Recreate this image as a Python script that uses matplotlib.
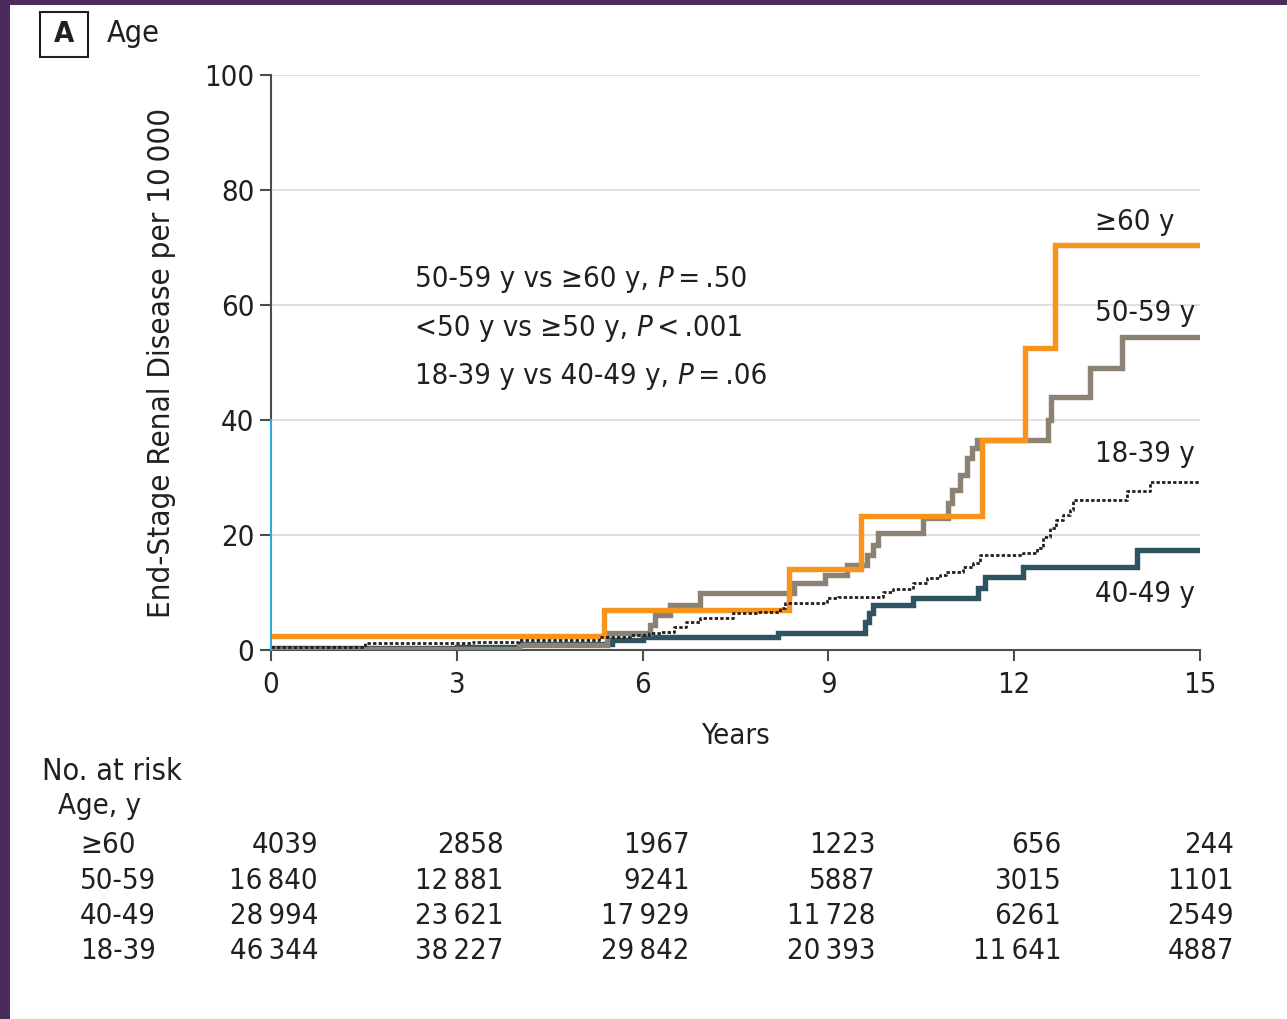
import matplotlib
matplotlib.use("Agg")
import matplotlib.pyplot as plt
import matplotlib.transforms as mtransforms
from matplotlib.patches import Rectangle

plt.rcParams['font.family'] = ['DejaVu Sans']
plt.rcParams['font.stretch'] = 'condensed'

# ---- data ----
t_60 = [0, 5.38, 8.36, 9.53, 11.48, 12.17, 12.66, 15]
v_60 = [2.4, 7.0, 14.1, 23.3, 36.5, 52.5, 70.4, 70.4]

t_50 = [0, 4.0, 5.42, 6.12, 6.2, 6.44, 6.93, 8.45, 8.95, 9.3, 9.62, 9.72, 9.8,
        10.53, 10.93, 11.0, 11.12, 11.23, 11.32, 11.4, 12.55, 12.6, 13.22, 13.74, 15]
v_50 = [0.2, 0.8, 3.0, 4.3, 6.1, 7.8, 9.9, 11.6, 13.0, 14.8, 16.5, 18.3, 20.3,
        23.0, 25.6, 27.8, 30.4, 33.4, 35.1, 36.5, 40.0, 44.0, 49.0, 54.4, 54.4]

t_40 = [0, 3.0, 4.0, 5.5, 6.0, 8.19, 9.59, 9.66, 9.72, 10.37, 11.42, 11.53, 12.14, 13.98, 15]
v_40 = [0.3, 0.6, 1.0, 1.8, 2.3, 3.0, 4.9, 6.4, 7.8, 9.0, 10.8, 12.7, 14.4, 17.4, 17.4]

t_18 = [0, 1.52, 3.26, 4.0, 5.3, 5.8, 6.1, 6.3, 6.5, 6.7, 6.93, 7.46, 7.87, 8.22, 8.3,
        8.98, 9.15, 9.88, 10.05, 10.37, 10.6, 10.8, 10.9, 11.17, 11.33, 11.45, 12.14,
        12.37, 12.47, 12.58, 12.68, 12.79, 12.9, 12.95, 13.82, 14.19, 15]
v_18 = [0.5, 1.2, 1.4, 1.7, 2.3, 2.6, 2.9, 3.1, 4.0, 4.8, 5.6, 6.4, 6.6, 7.3, 8.2,
        9.0, 9.2, 10.1, 10.6, 11.6, 12.5, 13.0, 13.6, 14.4, 15.1, 16.5, 16.9,
        17.7, 19.7, 21.2, 22.6, 23.5, 24.3, 26.1, 27.7, 29.2, 29.2]

x_ticks = [0, 3, 6, 9, 12, 15]
y_ticks = [0, 20, 40, 60, 80, 100]

risk_groups = ['≥60', '50-59', '40-49', '18-39']
risk_60 = [4039, 2858, 1967, 1223, 656, 244]
risk_50 = [16840, 12881, 9241, 5887, 3015, 1101]
risk_40 = [28994, 23621, 17929, 11728, 6261, 2549]
risk_18 = [46344, 38227, 29842, 20393, 11641, 4887]

series_labels = ['≥60 y', '50-59 y', '18-39 y', '40-49 y']
label_y = [74.4, 58.6, 34.1, 9.7]

pval_pre = ['50-59 y vs ≥60 y, ', '<50 y vs ≥50 y, ', '18-39 y vs 40-49 y, ']
pval_post = ['\u2009=\u2009.50', '\u2009<\u2009.001', '\u2009=\u2009.06']
pval_y = [64.5, 56.0, 47.7]

# ---- style ----
c_orange = '#F7941D'
c_gray = '#8C8273'
c_teal = '#2E5462'
c_dot = '#231F20'
c_text = '#231F20'
c_spine = '#4D4D4D'
c_blue = '#29ABE2'
FS = 21
col_offsets = [0.76, 0.76, 0.76, 0.76, 0.76, 0.55]

W, H = 1287, 1019
fig = plt.figure(figsize=(W / 100, H / 100), dpi=100)
fig.patch.set_facecolor('white')

fig.patches.append(Rectangle((0, 0), 10 / W, 1, transform=fig.transFigure,
                             facecolor='#4B2B5C', edgecolor='none', zorder=0))
fig.patches.append(Rectangle((0, 1 - 5 / H), 1, 5 / H, transform=fig.transFigure,
                             facecolor='#4B2B5C', edgecolor='none', zorder=0))

ax = fig.add_axes([271 / W, 1 - 650 / H, (1200 - 271) / W, (650 - 75) / H])
ax.set_xlim(0, 15)
ax.set_ylim(0, 100)

for yv in y_ticks[1:]:
    ax.axhline(yv, color='#DADADA', lw=1.2, zorder=0)

ax.step(t_40, v_40, where='post', color=c_teal, lw=3.9, zorder=2, solid_joinstyle='miter')
ax.step(t_50, v_50, where='post', color=c_gray, lw=3.9, zorder=3, solid_joinstyle='miter')
ax.step(t_60, v_60, where='post', color=c_orange, lw=3.9, zorder=4, solid_joinstyle='miter')
ax.step(t_18, v_18, where='post', color=c_dot, lw=2.0, zorder=5, linestyle=(0, (1.2, 0.8)))

for s in ['top', 'right']:
    ax.spines[s].set_visible(False)
ax.spines['left'].set_color(c_spine)
ax.spines['bottom'].set_color(c_spine)
ax.spines['left'].set_linewidth(1.5)
ax.spines['bottom'].set_linewidth(1.5)
ax.spines['left'].set_bounds(40, 100)
ax.plot([0, 0], [0, 40], color=c_blue, lw=1.5, clip_on=False, zorder=6)

ax.set_xticks(x_ticks)
ax.set_xticklabels([str(x) for x in x_ticks])
ax.set_yticks(y_ticks)
ax.set_yticklabels([str(y) for y in y_ticks])
ax.tick_params(axis='both', direction='out', length=8, width=1.5, color=c_spine,
               labelsize=FS, labelcolor=c_text, pad=4)
ax.tick_params(axis='x', pad=7)
ax.yaxis.get_major_ticks()[0].tick1line.set_color(c_blue)

ax.set_xlabel('Years', fontsize=FS, color=c_text, labelpad=17)
ax.set_ylabel('End-Stage Renal Disease per 10\u2009000', fontsize=22.5, color=c_text)
ax.yaxis.set_label_coords(-0.102, 0.5)

for lab, yy in zip(series_labels, label_y):
    ax.text(13.3, yy, lab, ha='left', va='center', fontsize=FS, color=c_text)

for pre, post, yy in zip(pval_pre, pval_post, pval_y):
    t1 = ax.text(2.33, yy, pre, ha='left', va='center', fontsize=FS, color=c_text)
    t2 = ax.annotate('P', xycoords=t1, xy=(1, 0.5), va='center', ha='left',
                     fontsize=FS, color=c_text, style='italic')
    ax.annotate(post, xycoords=t2, xy=(1, 0.5), va='center', ha='left',
                fontsize=FS, color=c_text)

fig.patches.append(Rectangle((40 / W, 1 - 57 / H), 48 / W, 45 / H, transform=fig.transFigure,
                             facecolor='white', edgecolor='#231F20', lw=1.5))
fig.text(64 / W, 1 - 34 / H, 'A', ha='center', va='center', fontsize=FS,
         fontweight='bold', color=c_text)
fig.text(107 / W, 1 - 33 / H, 'Age', ha='left', va='center', fontsize=FS + 1, color=c_text)

fig.text(42 / W, 1 - 771 / H, 'No. at risk', ha='left', va='center', fontsize=FS + 1, color=c_text)
fig.text(58 / W, 1 - 806 / H, 'Age, y', ha='left', va='center', fontsize=FS, color=c_text)
trans = mtransforms.blended_transform_factory(ax.transData, fig.transFigure)
row_y = [845, 881, 916, 951]
rows = [risk_60, risk_50, risk_40, risk_18]
for g, vals, ry in zip(risk_groups, rows, row_y):
    fig.text(80 / W, 1 - ry / H, g, ha='left', va='center', fontsize=FS, color=c_text)
    for xt, v, off in zip(x_ticks, vals, col_offsets):
        s = f'{v:,}'.replace(',', '\u2009') if v >= 10000 else str(v)
        ax.text(xt + off, 1 - ry / H, s, transform=trans, ha='right', va='center',
                fontsize=FS, color=c_text, clip_on=False)

fig.savefig('out.png', dpi=100, facecolor='white')
